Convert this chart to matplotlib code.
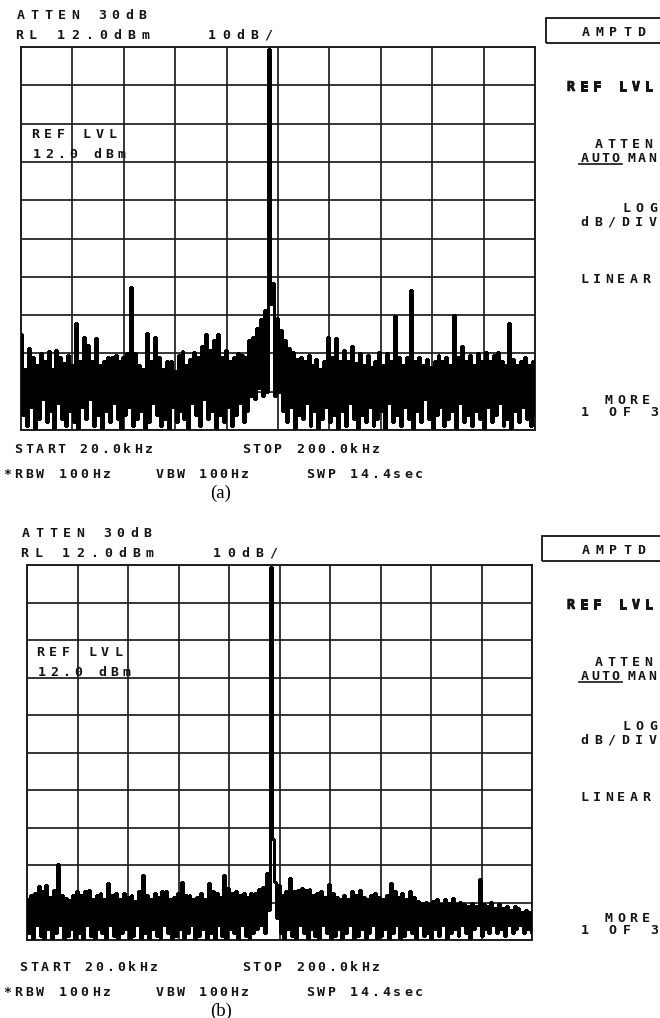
import numpy as np
import matplotlib.pyplot as plt
import matplotlib.patheffects as pe
from matplotlib.patches import Rectangle

W, H = 660, 1018
start_khz, stop_khz = 20.0, 200.0
ref_dbm, db_per_div, n_div = 12.0, 10.0, 10

# trace (a): peak / valley pairs, dBm
a_hi = [-63, -72, -66.5, -69, -71, -68, -70, -67.5, -72, -67,
        -69, -70.5, -68.5, -71, -60, -70, -63.7, -65.8, -70, -64,
        -71, -70, -69, -69, -68.4, -70, -69, -68, -50.7, -68,
        -71, -72, -62.7, -70, -63.7, -69, -72, -70, -70, -72.5,
        -68.4, -67.5, -71, -69.5, -67.6, -69, -66, -63, -67, -64.5,
        -63, -69, -67, -70, -69, -68, -68.4, -69, -64.5, -63.7,
        -61.4, -59, -56.7, 11.5, -49.6, -58.7, -62, -64.5, -66.5, -67.6,
        -69.5, -69, -70, -68.5, -71, -69.5, -72, -70, -63.7, -69,
        -64, -70, -67, -70, -66, -70.5, -68, -71, -68.4, -71.5,
        -70, -67.6, -71, -68, -70, -58.2, -69, -71, -69, -51.4,
        -70, -69, -71, -69.5, -71.5, -70, -68.4, -70, -69, -71,
        -58, -69, -66, -70, -68.5, -71, -68, -70, -67.6, -70,
        -68.5, -67.6, -70, -71, -60, -69.5, -71, -70, -69, -71,
        -70]
a_lo = [-84, -87, -82, -88, -85, -80, -86, -83, -88, -81,
        -85, -87, -83, -86, -88, -82, -85, -80, -87, -84,
        -88, -83, -86, -81, -85, -88, -84, -82, -87, -85,
        -83, -88, -86, -81, -84, -87, -85, -88, -82, -86,
        -83, -85, -88, -81, -84, -87, -80, -85, -83, -88,
        -84, -86, -82, -87, -84, -81, -86, -83, -79, -80,
        -77, -79, -78, -55, -79, -78, -83, -86, -82, -88,
        -84, -85, -81, -87, -83, -88, -85, -82, -86, -84,
        -88, -83, -87, -81, -85, -88, -84, -86, -82, -87,
        -85, -83, -88, -81, -86, -84, -87, -82, -85, -88,
        -83, -86, -80, -85, -88, -84, -82, -87, -85, -83,
        -88, -81, -86, -84, -87, -83, -85, -88, -82, -86,
        -84, -81, -87, -85, -88, -83, -86, -82, -85, -87,
        -84]

# trace (b)
b_hi = [-77, -76, -75.5, -73.6, -75, -73.3, -76.5, -74.7, -67.7, -76,
        -76.8, -77.3, -76, -74.9, -76, -75, -74.7, -77, -76, -75.5,
        -77, -72.8, -76, -75.5, -77, -75.5, -76.5, -76, -77.5, -75,
        -70.7, -76, -77, -75.5, -76.5, -75, -75, -77, -76.5, -75.5,
        -72.5, -76, -76, -77, -76.5, -75.5, -77, -72.8, -75, -75.5,
        -76.5, -70.7, -74, -75.5, -75, -76, -75.5, -76.5, -75.5, -75.5,
        -74.5, -73.8, -70, 11.5, -72.5, -73.3, -76, -75, -71.5, -75,
        -74.7, -74, -74.7, -74.5, -76, -75.5, -75, -76.5, -73, -75.5,
        -76.5, -77, -76, -77, -74.9, -76, -74.7, -76.5, -77, -76,
        -75.5, -76.5, -77, -76, -72.8, -75, -76.5, -75.5, -77, -75,
        -76.5, -77.5, -78, -77.9, -78.5, -77.5, -77, -78.5, -77, -78,
        -76.8, -78.5, -77.9, -78.5, -79, -78.2, -79, -71.7, -78.5, -79,
        -77.9, -79.5, -78.5, -79.5, -79, -80, -79, -79.5, -80.5, -80,
        -80.5]
b_lo = [-86, -88, -84, -87, -88, -85, -88, -86, -84, -88,
        -87, -85, -88, -86, -88, -84, -87, -88, -85, -86,
        -88, -84, -87, -88, -86, -85, -88, -87, -84, -88,
        -86, -88, -85, -87, -88, -84, -86, -88, -87, -85,
        -88, -86, -84, -88, -87, -85, -88, -86, -88, -84,
        -87, -88, -85, -86, -88, -84, -87, -88, -86, -85,
        -84, -86, -80, -61, -82, -86, -88, -85, -87, -88,
        -84, -86, -88, -85, -87, -88, -84, -86, -88, -87,
        -85, -88, -86, -84, -88, -87, -85, -88, -86, -84,
        -88, -87, -85, -88, -86, -84, -88, -87, -85, -86,
        -88, -84, -87, -86, -88, -85, -87, -84, -88, -86,
        -85, -87, -84, -86, -88, -85, -84, -87, -85, -86,
        -84, -86, -85, -87, -84, -86, -85, -84, -86, -85,
        -86]

mono = 'DejaVu Sans Mono'
ink = '#141414'
fig = plt.figure(figsize=(W / 100, H / 100), dpi=100)
fig.patch.set_facecolor('white')


def sweep(hi, lo):
    level = np.empty(2 * len(hi))
    level[0::2] = hi
    level[1::2] = lo
    freq = np.linspace(start_khz, stop_khz, len(level))
    return freq, level


def ptext(x, y, s, pitch, size=9.5, heavy=False, right=False):
    # x = centre of first char (or last when right=True), y = middle of caps, in pixels
    if right:
        x = x - (len(s) - 1) * pitch
    cap = size * 100 / 72 * 0.729
    fx = [pe.withStroke(linewidth=0.7, foreground=ink)] if heavy else None
    for i, ch in enumerate(s):
        if ch == ' ':
            continue
        fig.text((x + i * pitch) / W, 1 - (y + cap / 2) / H, ch, ha='center',
                 va='baseline', family=mono, fontsize=size, weight='bold',
                 color=ink, path_effects=fx)


def panel(left, top, right, bottom, hi, lo):
    ax = fig.add_axes([left / W, 1 - bottom / H, (right - left) / W, (bottom - top) / H])
    freq, level = sweep(hi, lo)
    ax.plot(freq, level, color='black', lw=1.0, drawstyle='steps-mid',
            antialiased=False, zorder=3)
    ax.set_xlim(start_khz, stop_khz)
    ax.set_ylim(ref_dbm - n_div * db_per_div, ref_dbm)
    ax.set_xticks(np.linspace(start_khz, stop_khz, n_div + 1))
    ax.set_yticks(np.linspace(ref_dbm - n_div * db_per_div, ref_dbm, n_div + 1))
    ax.grid(True, color='#1e1e1e', lw=1.25, zorder=2)
    ax.tick_params(length=0, labelbottom=False, labelleft=False)
    for sp in ax.spines.values():
        sp.set_linewidth(1.4)
        sp.set_color('#1e1e1e')
    return ax


def screen(dy, lx, grid_box, hi, lo, label, menu_dy, box_left):
    panel(*grid_box, hi, lo)
    ptext(lx + 21, dy + 14, 'ATTEN 30dB', 13.5)
    ptext(lx + 19, dy + 34, 'RL 12.0dBm', 14)
    ptext(lx + 212, dy + 34, '10dB/', 14)
    ptext(lx + 35, dy + 133, 'REF LVL', 13)
    ptext(lx + 37, dy + 153, '12.0 dBm', 12.1)
    # softkey menu
    m = menu_dy
    fig.patches.append(Rectangle((box_left / W, 1 - (m + 43) / H), (662 - box_left) / W, 25 / H,
                                 transform=fig.transFigure, fill=False, lw=1.3, ec=ink))
    ptext(586, m + 31, 'AMPTD', 13.75)
    ptext(649, m + 86, 'REF LVL', 13, heavy=True, right=True)
    ptext(648, m + 143, 'ATTEN', 12.3, right=True)
    ptext(585, m + 157, 'AUTO', 10.2)
    ptext(632, m + 157, 'MAN', 10.2)
    fig.add_artist(plt.Line2D([579 / W, 622 / W], [1 - (m + 164) / H] * 2, color=ink, lw=1.2))
    ptext(653, m + 207, 'LOG', 13.5, right=True)
    ptext(653, m + 221, 'dB/DIV', 13.8, right=True)
    ptext(646, m + 278, 'LINEAR', 12.4, right=True)
    ptext(646, m + 399, 'MORE', 12.5, right=True)
    ptext(654, m + 411, '1 OF 3', 13.8, right=True)
    # bottom annotations
    ptext(lx + 18, dy + 448, 'START 20.0kHz', 10.9)
    ptext(246, dy + 448, 'STOP 200.0kHz', 10.8)
    ptext(7, dy + 473, '*RBW 100Hz', 11.1)
    ptext(160, dy + 473, 'VBW 100Hz', 10.6)
    ptext(310, dy + 473, 'SWP 14.4sec', 10.9)
    fig.text(221 / W, 1 - (dy + 493) / H, label, ha='center', va='center',
             family='Liberation Serif', fontsize=13.5)


screen(0, 0, (21, 47, 535, 430), a_hi, a_lo, '(a)', 0, 546)
screen(518, 5, (27, 565, 532, 940), b_hi, b_lo, '(b)', 518, 542)

fig.savefig('out.png', dpi=100, facecolor='white')
